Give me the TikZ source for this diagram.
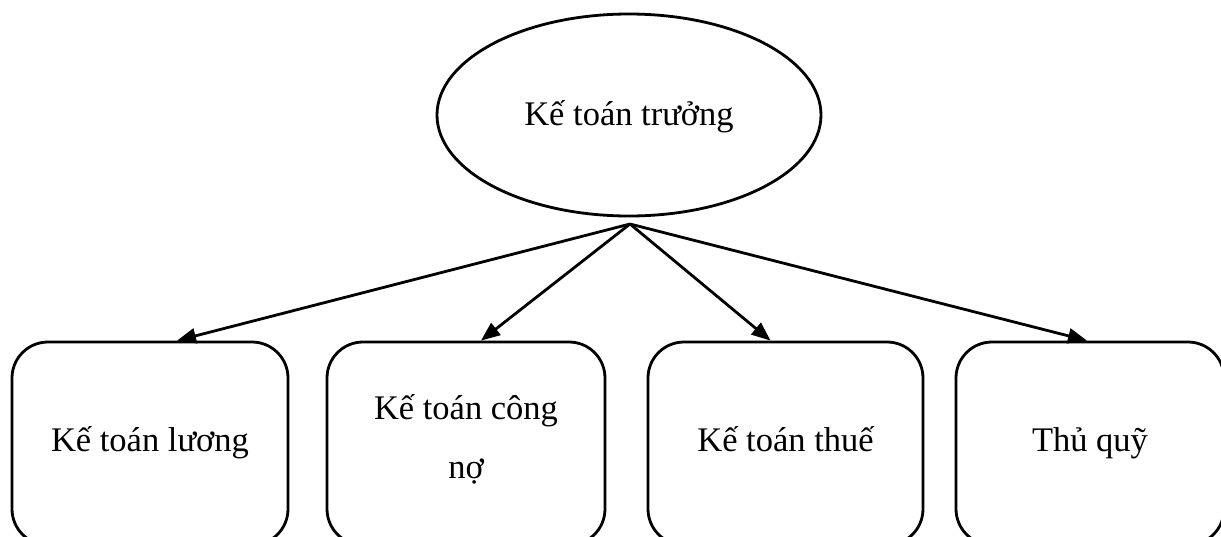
\documentclass[tikz,border=0pt]{standalone}
\usepackage{fontspec}
\setmainfont{Liberation Serif}
\usetikzlibrary{shapes.geometric,arrows.meta}
\begin{document}
\begin{tikzpicture}[x=1pt,y=-1pt,
  txt/.style={font=\fontsize{34.5}{59}\selectfont, align=center, text height=25pt, text depth=9pt},
  rbox/.style={draw, line width=2.8pt, rounded corners=36pt, minimum height=203pt, inner sep=0pt, txt},
  head/.style={draw, ellipse, line width=2.8pt, minimum width=384pt, minimum height=202pt, inner sep=0pt, txt},
  link/.style={line width=2.8pt, -{Triangle[length=19pt,width=15pt]}}]
\useasboundingbox (0,0) rectangle (1221,536);
\clip (0,0) rectangle (1221,536);
\node[head] (kt) at (629,115) {\raisebox{-2.5pt}{Kế toán trưởng}};
\coordinate (src) at (630,224);
\node[rbox, minimum width=276pt] (b1) at (150,443.5) {Kế toán lương};
\node[rbox, minimum width=278pt] (b2) at (466,443.5) {\raisebox{32pt}{\begin{tabular}[t]{@{}c@{}}Kế toán công\\nợ\end{tabular}}};
\node[rbox, minimum width=275pt] (b3) at (785.5,443.5) {Kế toán thuế};
\node[rbox, minimum width=268pt] (b4) at (1090,443.5) {Thủ quỹ};
\draw[link] (src) -- ([xshift=27pt]b1.north);
\draw[link] (src) -- ([xshift=15pt]b2.north);
\draw[link] (src) -- ([xshift=-15pt]b3.north);
\draw[link] (src) -- ([xshift=-3pt]b4.north);
\end{tikzpicture}
\end{document}
